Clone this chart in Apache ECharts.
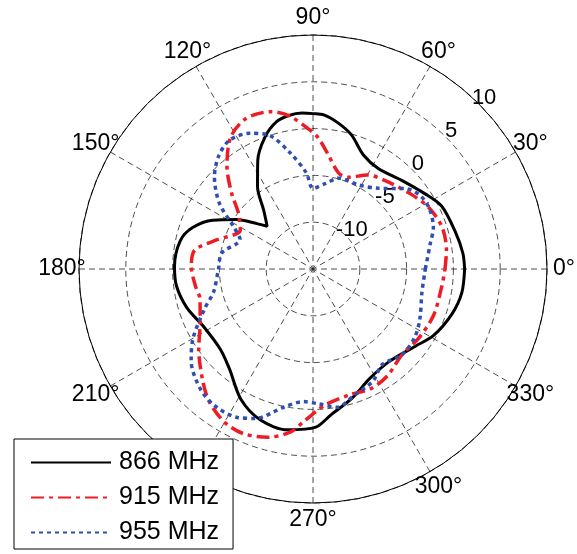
<!DOCTYPE html>
<html>
<head>
<meta charset="utf-8">
<script src="https://cdn.jsdelivr.net/npm/echarts@6/dist/echarts.min.js"></script>
<style>
  html, body { margin: 0; padding: 0; background: #fff; }
  #chart { width: 577px; height: 554px; }
</style>
</head>
<body>
<div id="chart"></div>
<script>
// angle (deg) and gain (dB)
var ang866 = [0, 6, 15, 26, 34, 45, 57, 66, 74, 80, 86, 90, 94, 99, 104, 110, 117, 124, 130, 137, 141, 147, 154, 161, 168, 179, 187, 197, 208, 221, 230, 241, 251, 261, 271, 277, 287, 297, 309, 323, 331, 342, 351, 360];
var gain866 = [1.2, 1.1, 0.7, 0.3, -0.6, -1.6, -2.2, -1.7, -0.1, 0.8, 1.5, 1.6, 1.7, 1.6, 1.2, 0.0, -2.0, -4.4, -6.8, -8.3, -7.3, -5.3, -3.1, -1.4, -0.5, -0.2, -0.3, -0.9, -1.8, -1.9, -1.1, 0.9, 2.1, 2.4, 1.9, 0.7, -0.6, -1.8, -2.2, -1.3, -0.3, 0.6, 1.1, 1.2];

var ang915 = [0, 8, 18, 28, 37, 49, 60, 69, 75, 83, 88, 92, 99, 105, 114, 122, 130, 137, 143, 152, 163, 171, 179, 188, 195, 205, 215, 225, 232, 240, 247, 255, 262, 267, 275, 286, 296, 305, 316, 327, 339, 353, 360];
var gain915 = [-0.9, -0.6, -0.5, -1.0, -1.8, -2.7, -3.4, -4.5, -4.4, -2.5, -0.9, 0.0, 1.6, 2.4, 2.6, 1.6, -0.7, -3.1, -5.0, -6.2, -4.3, -2.2, -2.0, -2.3, -2.5, -1.7, -0.1, 1.7, 3.0, 3.9, 4.1, 3.6, 2.6, 1.2, -0.4, -1.0, -0.8, -1.1, -1.8, -1.5, -1.2, -1.1, -0.9];

var ang955 = [0, 12, 19, 27, 34, 41, 51, 62, 74, 82, 90, 94, 101, 108, 115, 123, 130, 137, 145, 152, 158, 170, 180, 193, 200, 210, 217, 227, 235, 243, 249, 258, 266, 272, 280, 288, 298, 306, 316, 326, 335, 348, 360];
var gain955 = [-3.0, -2.2, -1.4, -1.0, -1.1, -1.9, -3.9, -4.8, -4.9, -5.8, -6.4, -4.7, -2.4, 0.0, 1.0, 1.4, 0.7, -0.6, -2.8, -5.4, -6.6, -5.1, -4.9, -4.1, -2.7, -0.2, 1.3, 2.6, 3.0, 2.8, 2.1, 0.1, -0.8, -0.6, 0.0, -0.8, -1.4, -2.4, -1.8, -1.9, -2.4, -3.1, -3.0];

var seriesNames = ['866 MHz', '915 MHz', '955 MHz'];
var angleTicks = [0, 30, 60, 90, 120, 150, 180, 210, 240, 270, 300, 330];
var rMin = -15, rMax = 10, rStep = 5;

function pairs(angles, gains) {
  return angles.map(function (a, i) { return [gains[i], a]; });
}

var chart = echarts.init(document.getElementById('chart'));
var font = 'Liberation Sans, Arial, sans-serif';
var dash = { type: [6, 4], color: '#222', width: 0.8 };
var hiddenAngle = { type: 'value', min: 0, max: 360, clockwise: false, show: false };

var option = {
  backgroundColor: '#fff',
  animation: false,
  polar: [
    { center: [313, 269], radius: 234 },
    { center: [313, 269], radius: [8, 242] },   // dB labels along 45 deg
    { center: [313, 269], radius: 251 }         // angle labels, centred like MATLAB
  ],
  angleAxis: [{
    polarIndex: 0,
    type: 'value', min: 0, max: 360, interval: 30,
    startAngle: 0, clockwise: false,
    axisLine: { lineStyle: { color: '#000', width: 1 } },
    axisTick: { show: false },
    axisLabel: { show: false },
    splitLine: { show: true, lineStyle: dash }
  },
  Object.assign({ polarIndex: 1, startAngle: 45 }, hiddenAngle),
  Object.assign({ polarIndex: 2, startAngle: 0 }, hiddenAngle)],
  radiusAxis: [{
    polarIndex: 0,
    type: 'value', min: rMin, max: rMax, interval: rStep,
    axisLine: { show: false }, axisTick: { show: false },
    axisLabel: { show: false },
    splitLine: { show: true, lineStyle: dash }
  }, {
    polarIndex: 1,
    type: 'value', min: rMin, max: rMax, interval: rStep,
    axisLine: { show: false }, axisTick: { show: false },
    splitLine: { show: false },
    axisLabel: {
      margin: 0, fontSize: 22, fontFamily: font, color: '#000',
      align: 'center', verticalAlign: 'middle',
      formatter: function (v) { return v === rMin ? '' : String(v); }
    }
  }, {
    polarIndex: 2, type: 'value', min: 0, max: 1, show: false
  }],
  legend: {
    orient: 'vertical', left: 14, top: 439, z: 20,
    padding: [11, 14, 4, 16],
    backgroundColor: '#fff', borderColor: '#000', borderWidth: 1, borderRadius: 0,
    itemWidth: 80, itemHeight: 14, itemGap: 10,
    itemStyle: { color: 'rgba(0,0,0,0)', borderWidth: 0 },
    textStyle: { fontSize: 25, fontFamily: font, color: '#000', padding: [0, 0, 0, 3] },
    data: seriesNames
  },
  series: [{
    name: seriesNames[0], type: 'line', coordinateSystem: 'polar', polarIndex: 0,
    symbol: 'none', smooth: 0.3,
    lineStyle: { color: '#000', width: 3, type: 'solid' },
    itemStyle: { color: '#000' },
    data: pairs(ang866, gain866)
  }, {
    name: seriesNames[1], type: 'line', coordinateSystem: 'polar', polarIndex: 0,
    symbol: 'none', smooth: 0.3,
    lineStyle: { color: '#ee1c25', width: 3.5, type: [13, 5, 4, 5] },
    itemStyle: { color: '#ee1c25' },
    data: pairs(ang915, gain915)
  }, {
    name: seriesNames[2], type: 'line', coordinateSystem: 'polar', polarIndex: 0,
    symbol: 'none', smooth: 0.3,
    lineStyle: { color: '#2f4fb0', width: 3.5, type: [4, 4] },
    itemStyle: { color: '#2f4fb0' },
    data: pairs(ang955, gain955)
  }, {
    // angle tick labels, centred on a circle just outside the plot
    name: 'angleLabels', type: 'scatter', coordinateSystem: 'polar', polarIndex: 2,
    symbol: 'circle', symbolSize: 1, silent: true, z: 1,
    itemStyle: { color: 'rgba(0,0,0,0)' },
    label: {
      show: true, position: 'inside', fontSize: 23, fontFamily: font,
      color: '#000', opacity: 1, textBorderWidth: 0,
      formatter: function (p) { return p.value[1] + '°'; }
    },
    data: angleTicks.map(function (a) { return [1, a]; })
  }]
};
chart.setOption(option);
</script>
</body>
</html>
